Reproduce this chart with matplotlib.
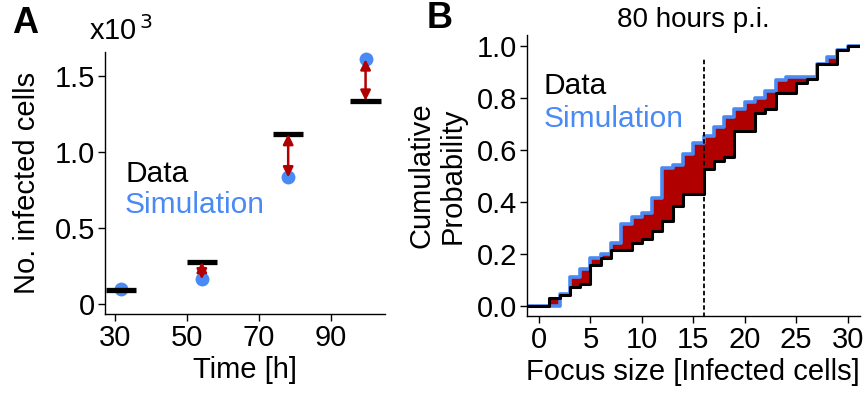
import numpy as np
import matplotlib
matplotlib.use('Agg')
import matplotlib.pyplot as plt

plt.rcParams['font.family'] = ['Liberation Sans', 'DejaVu Sans']
plt.rcParams['font.size'] = 21

# panel A: infected cell counts (x10^3) at each time point
time_h = [31.7, 54.1, 78.1, 99.6]
cells_data = [0.094, 0.278, 1.119, 1.338]
cells_sim = [0.100, 0.164, 0.834, 1.610]

# panel B: cumulative focus size distribution at 80 h p.i.
focus_size = list(range(0, 32))
cdf_data = [0.0, 0.031, 0.044, 0.072, 0.085, 0.157, 0.186, 0.215, 0.215, 0.243,
            0.256, 0.288, 0.328, 0.385, 0.429, 0.429, 0.525, 0.557, 0.571, 0.673,
            0.673, 0.740, 0.757, 0.820, 0.820, 0.855, 0.871, 0.930, 0.930, 0.983,
            1.0, 1.0]
cdf_sim = [0.0, 0.0, 0.046, 0.113, 0.142, 0.186, 0.200, 0.243, 0.314, 0.343,
           0.356, 0.414, 0.529, 0.542, 0.584, 0.627, 0.654, 0.686, 0.727, 0.755,
           0.785, 0.798, 0.827, 0.868, 0.881, 0.881, 0.881, 0.930, 0.955, 0.983,
           1.0, 1.0]
median_line = 16

BLUE = '#4a8af4'
RED = '#b00000'
FS = 21

W, H = 867, 400
fig = plt.figure(figsize=(W / 100, H / 100), dpi=100)


def style_axes(ax):
    for s in ['top', 'right']:
        ax.spines[s].set_visible(False)
    for s in ['left', 'bottom']:
        ax.spines[s].set_linewidth(1.0)
    ax.tick_params(direction='out', length=5, width=1.0, labelsize=FS, pad=2)


# ---- panel A ----
axA = fig.add_axes([105 / W, 1 - 314.3 / H, 280 / W, 262.6 / H])
style_axes(axA)
axA.plot(time_h, cells_sim, 'o', color=BLUE, ms=10, mec='none', zorder=2)
axA.hlines(cells_data, np.array(time_h) - 4.25, np.array(time_h) + 4.25,
           color='black', lw=3.8, zorder=3)
for t, d, s in zip(time_h, cells_data, cells_sim):
    if abs(d - s) > 0.05:
        axA.annotate('', xy=(t, s), xytext=(t, d),
                     arrowprops=dict(arrowstyle='<|-|>', color=RED, lw=1.8,
                                     mutation_scale=15, shrinkA=0, shrinkB=0),
                     zorder=4)
axA.set_xlim(27.2, 105)
axA.set_ylim(-0.066, 1.66)
axA.set_xticks([30, 50, 70, 90])
axA.set_yticks([0, 0.5, 1.0, 1.5])
axA.set_yticklabels(['0', '0.5', '1.0', '1.5'])
axA.set_xlabel('Time [h]', fontsize=FS, labelpad=3)
axA.set_ylabel('No. infected cells', fontsize=FS, labelpad=10)
fig.text(125 / W, 1 - 182 / H, 'Data', color='black', fontsize=21.5)
fig.text(125 / W, 1 - 213 / H, 'Simulation', color=BLUE, fontsize=21.5)
fig.text(89 / W, 1 - 40 / H, r'x10$^{\,3}$', fontsize=FS)
fig.text(12 / W, 1 - 33 / H, 'A', fontsize=26, fontweight='bold')

# ---- panel B ----
axB = fig.add_axes([526.7 / W, 1 - 316 / H, 333.3 / W, 281 / H])
style_axes(axB)
xs = np.concatenate([[-2], focus_size, [focus_size[-1] + 2]])
yd = np.concatenate([[0], cdf_data, [cdf_data[-1]]])
ysim = np.concatenate([[0], cdf_sim, [cdf_sim[-1]]])
axB.fill_between(xs, yd, ysim, step='post', color=RED, lw=0, zorder=1)
axB.step(xs, ysim, where='post', color=BLUE, lw=2.6, zorder=2)
axB.step(xs, yd, where='post', color='black', lw=2.2, zorder=3)
axB.plot([median_line, median_line], [-0.04, 0.958], color='black', lw=1.3,
         ls=(0, (2.5, 1.5)), zorder=4)
axB.set_xlim(-1.2, 31.2)
axB.set_ylim(-0.038, 1.041)
axB.set_xticks(range(0, 31, 5))
axB.set_yticks(np.arange(0, 1.01, 0.2))
axB.set_yticklabels(['0.0', '0.2', '0.4', '0.6', '0.8', '1.0'])
axB.set_xlabel('Focus size [Infected cells]', fontsize=FS, labelpad=3)
axB.set_ylabel('Cumulative\nProbability', fontsize=FS, labelpad=7, linespacing=1.15)
axB.set_title('80 hours p.i.', fontsize=20, pad=6)
fig.text(544 / W, 1 - 94 / H, 'Data', color='black', fontsize=21.5)
fig.text(544 / W, 1 - 127 / H, 'Simulation', color=BLUE, fontsize=21.5)
fig.text(427 / W, 1 - 28 / H, 'B', fontsize=26, fontweight='bold')

fig.savefig('out.png', dpi=100)
